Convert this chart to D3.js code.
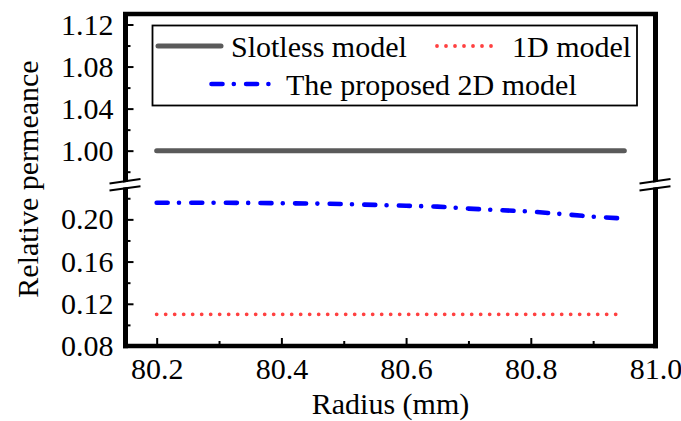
<!DOCTYPE html>
<html>
<head>
<meta charset="utf-8">
<script src="https://cdn.jsdelivr.net/npm/d3@7"></script>
<style>
  html, body { margin: 0; padding: 0; background: #fff; }
  svg { display: block; }
  text { font-family: "Liberation Serif", "Times New Roman", serif; fill: #000; }
</style>
</head>
<body>
<svg id="chart" width="681" height="421"></svg>
<script>
// ---- data ----
const radius = [80.20, 80.25, 80.30, 80.35, 80.40, 80.45, 80.50, 80.55, 80.60, 80.65, 80.70, 80.75, 80.80, 80.85, 80.90, 80.95];
const slotless = [1.00, 1.00, 1.00, 1.00, 1.00, 1.00, 1.00, 1.00, 1.00, 1.00, 1.00, 1.00, 1.00, 1.00, 1.00, 1.00];
const model1D = [0.11, 0.11, 0.11, 0.11, 0.11, 0.11, 0.11, 0.11, 0.11, 0.11, 0.11, 0.11, 0.11, 0.11, 0.11, 0.11];
const model2D = [0.2158, 0.2158, 0.2157, 0.2156, 0.2153, 0.2150, 0.2145, 0.2137, 0.2129, 0.2121, 0.2102, 0.2087, 0.2074, 0.2050, 0.2025, 0.2008];
const seriesNames = ["Slotless model", "1D model", "The proposed 2D model"];
const xTicks = [80.2, 80.4, 80.6, 80.8, 81.0];
const xMinorTicks = [80.3, 80.5, 80.7, 80.9];
const upperTicks = [1.00, 1.04, 1.08, 1.12];
const upperMinorTicks = [0.98, 1.02, 1.06, 1.10];
const lowerTicks = [0.08, 0.12, 0.16, 0.20];
const lowerMinorTicks = [0.10, 0.14, 0.18, 0.22];
const xTitle = "Radius (mm)";
const yTitle = "Relative permeance";

// ---- layout ----
const L = 125.5, R = 655.5, T = 14, B = 346;
const breakUpper = 182.2, breakLower = 187.7;
const FS = 30;

const svg = d3.select("#chart");
const x = d3.scaleLinear().domain([80.15, 81.0]).range([L, R]);
const yU = d3.scaleLinear().domain([0.97, 1.13]).range([breakUpper, T]);
const yL = d3.scaleLinear().domain([0.08, 0.23]).range([B, breakLower]);

// ---- axes (ticks inward) ----
function styleAxis(g) {
  g.attr("font-family", null);
  g.select(".domain").remove();
  g.selectAll(".tick line").attr("stroke", "#000").attr("stroke-width", 2);
  g.selectAll(".tick text").attr("font-size", FS).attr("fill", "#000");
}
const fmt2 = d3.format(".2f");
const fmt1 = d3.format(".1f");

svg.append("g").attr("transform", `translate(${L},0)`)
  .call(d3.axisLeft(yU).tickValues(upperTicks).tickFormat(fmt2).tickSize(-8).tickPadding(12)).call(styleAxis);
svg.append("g").attr("transform", `translate(${L},0)`)
  .call(d3.axisLeft(yU).tickValues(upperMinorTicks).tickFormat("").tickSize(-5)).call(styleAxis);
svg.append("g").attr("transform", `translate(${L},0)`)
  .call(d3.axisLeft(yL).tickValues(lowerTicks).tickFormat(fmt2).tickSize(-8).tickPadding(12)).call(styleAxis);
svg.append("g").attr("transform", `translate(${L},0)`)
  .call(d3.axisLeft(yL).tickValues(lowerMinorTicks).tickFormat("").tickSize(-5)).call(styleAxis);
svg.append("g").attr("transform", `translate(0,${B})`)
  .call(d3.axisBottom(x).tickValues(xTicks).tickFormat(fmt1).tickSize(-8).tickPadding(12)).call(styleAxis);
svg.append("g").attr("transform", `translate(0,${B})`)
  .call(d3.axisBottom(x).tickValues(xMinorTicks).tickFormat("").tickSize(-5)).call(styleAxis);

// ---- frame ----
const frame = svg.append("g").attr("stroke", "#000").attr("fill", "none");
frame.append("line").attr("x1", L).attr("x2", L).attr("y1", T - 2).attr("y2", B + 2.2).attr("stroke-width", 5);
frame.append("line").attr("x1", R).attr("x2", R).attr("y1", T - 2).attr("y2", B + 2.2).attr("stroke-width", 5);
frame.append("line").attr("x1", L - 2.5).attr("x2", R + 2.5).attr("y1", T).attr("y2", T).attr("stroke-width", 4.3);
frame.append("line").attr("x1", L - 2.5).attr("x2", R + 2.5).attr("y1", B).attr("y2", B).attr("stroke-width", 4.5);

// ---- break marks ----
function breakMark(x0) {
  const g = svg.append("g");
  const yA = 181.2, yB = 188.4, dxl = 16, dxr = 15, s = 2.2;
  g.append("path")
    .attr("d", `M${x0 - dxl},${yA + s + 1} L${x0 + dxr},${yA - s + 1} L${x0 + dxr},${yB - s - 1} L${x0 - dxl},${yB + s - 1} Z`)
    .attr("fill", "#fff");
  [yA, yB].forEach(yb => {
    g.append("line").attr("x1", x0 - dxl).attr("y1", yb + s).attr("x2", x0 + dxr).attr("y2", yb - s)
      .attr("stroke", "#000").attr("stroke-width", 2);
  });
}
breakMark(L);
breakMark(R);

// ---- series ----
const idx = d3.range(radius.length);

svg.append("path")
  .attr("d", d3.line().x(i => x(radius[i])).y(i => yU(slotless[i]))(idx))
  .attr("fill", "none").attr("stroke", "#5a5a5a").attr("stroke-width", 5).attr("stroke-linecap", "round");

svg.append("path")
  .attr("d", d3.line().x(i => x(radius[i])).y(i => yL(model1D[i]))(idx))
  .attr("fill", "none").attr("stroke", "#ff4040").attr("stroke-width", 3.8)
  .attr("stroke-linecap", "round").attr("stroke-dasharray", "0 9");

svg.append("path")
  .attr("d", d3.line().x(i => x(radius[i])).y(i => yL(model2D[i]))(idx))
  .attr("fill", "none").attr("stroke", "#0000ff").attr("stroke-width", 4.6)
  .attr("stroke-linecap", "round").attr("stroke-dasharray", "11 11.3 0 12.3");

// ---- legend ----
const leg = svg.append("g");
leg.append("rect").attr("x", 152.5).attr("y", 25.5).attr("width", 484.5).attr("height", 80)
  .attr("fill", "#fff").attr("stroke", "#000").attr("stroke-width", 1.8);
leg.append("line").attr("x1", 158).attr("x2", 221).attr("y1", 46).attr("y2", 46)
  .attr("stroke", "#5a5a5a").attr("stroke-width", 5).attr("stroke-linecap", "round");
leg.append("text").attr("x", 231).attr("y", 57).attr("font-size", FS).text(seriesNames[0]);
leg.append("line").attr("x1", 437).attr("x2", 500).attr("y1", 46).attr("y2", 46)
  .attr("stroke", "#ff4040").attr("stroke-width", 3.8).attr("stroke-linecap", "round").attr("stroke-dasharray", "0 9");
leg.append("text").attr("x", 512).attr("y", 57).attr("font-size", FS).text(seriesNames[1]);
leg.append("line").attr("x1", 211.5).attr("x2", 270).attr("y1", 84).attr("y2", 84)
  .attr("stroke", "#0000ff").attr("stroke-width", 4.6).attr("stroke-linecap", "round").attr("stroke-dasharray", "11 11.3 0 12.3");
leg.append("text").attr("x", 286).attr("y", 95).attr("font-size", FS).text(seriesNames[2]);

// ---- titles ----
svg.append("text").attr("x", (L + R) / 2).attr("y", 414).attr("text-anchor", "middle")
  .attr("font-size", FS).text(xTitle);
svg.append("text").attr("transform", `translate(38,179) rotate(-90)`).attr("text-anchor", "middle")
  .attr("font-size", FS).text(yTitle);
</script>
</body>
</html>
